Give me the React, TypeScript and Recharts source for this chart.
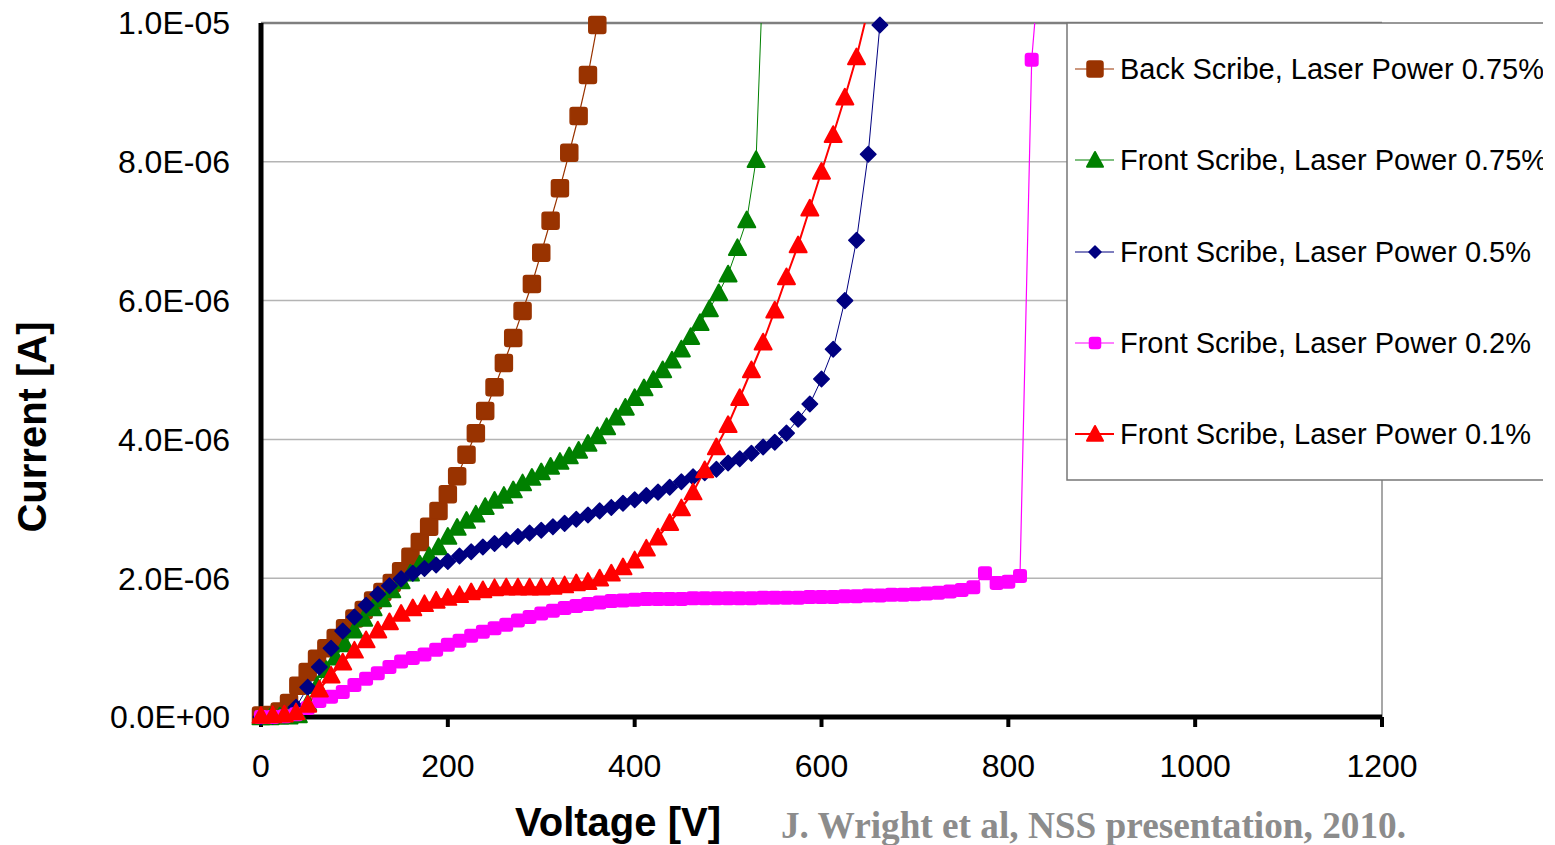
import { CartesianGrid, Line, LineChart, ReferenceLine, XAxis, YAxis } from "recharts";

// voltage steps used by the measurements [V]
const volts10 = [
  0, 10, 20, 30, 40, 50, 60, 70, 80, 90, 100, 110, 120, 130, 140, 150, 160, 170, 180, 190, 200, 210, 220,
  230, 240, 250, 260, 270, 280, 290, 300, 310, 320, 330, 340, 350, 360, 370, 380, 390, 400, 410, 420, 430,
  440, 450, 460, 470, 480, 490, 500, 510, 520, 530, 540,
];
const volts12 = [
  0, 12.5, 25, 37.5, 50, 62.5, 75, 87.5, 100, 112.5, 125, 137.5, 150, 162.5, 175, 187.5, 200, 212.5, 225,
  237.5, 250, 262.5, 275, 287.5, 300, 312.5, 325, 337.5, 350, 362.5, 375, 387.5, 400, 412.5, 425, 437.5, 450,
  462.5, 475, 487.5, 500, 512.5, 525, 537.5, 550, 562.5, 575, 587.5, 600, 612.5, 625, 637.5, 650, 662.5, 675,
  687.5, 700, 712.5, 725, 737.5, 750, 762.5, 775, 787.5, 800, 812.5, 825, 837.5,
];

// currents in µA (x1e-6 A)
const backScribe075 = [
  0.02, 0.03, 0.08, 0.2, 0.45, 0.65, 0.84, 0.99, 1.14, 1.28, 1.42, 1.54, 1.68, 1.8, 1.93, 2.1, 2.31, 2.52,
  2.74, 2.97, 3.21, 3.47, 3.78, 4.09, 4.41, 4.75, 5.1, 5.46, 5.85, 6.24, 6.69, 7.15, 7.62, 8.13, 8.66, 9.25, 9.97,
];
const frontScribe075 = [
  0, 0, 0.01, 0.01, 0.03, 0.2, 0.45, 0.68, 0.86, 1.05, 1.25, 1.42, 1.57, 1.7, 1.83, 1.96, 2.07, 2.2, 2.32,
  2.45, 2.6, 2.73, 2.83, 2.92, 3.03, 3.12, 3.19, 3.27, 3.37, 3.45, 3.53, 3.61, 3.68, 3.76, 3.84, 3.94, 4.05,
  4.18, 4.32, 4.46, 4.6, 4.74, 4.86, 5.0, 5.14, 5.3, 5.48, 5.68, 5.88, 6.11, 6.38, 6.76, 7.16, 8.03, 11.7,
];
const frontScribe05 = [
  0, 0.01, 0.03, 0.14, 0.43, 0.72, 0.99, 1.24, 1.44, 1.61, 1.77, 1.89, 1.99, 2.07, 2.14, 2.19, 2.24, 2.32,
  2.38, 2.45, 2.5, 2.55, 2.6, 2.65, 2.69, 2.74, 2.79, 2.85, 2.91, 2.97, 3.02, 3.08, 3.13, 3.19, 3.24, 3.31,
  3.39, 3.46, 3.52, 3.57, 3.66, 3.72, 3.8, 3.89, 3.96, 4.09, 4.29, 4.51, 4.87, 5.3, 6.0, 6.87, 8.11, 9.97,
];
const frontScribe02 = [
  0, 0, 0.01, 0.04, 0.13, 0.23, 0.29, 0.36, 0.46, 0.55, 0.63, 0.72, 0.8, 0.85, 0.9, 0.97, 1.04, 1.1, 1.17,
  1.23, 1.28, 1.33, 1.39, 1.44, 1.49, 1.53, 1.57, 1.6, 1.63, 1.65, 1.67, 1.68, 1.69, 1.7, 1.7, 1.7, 1.7, 1.71,
  1.71, 1.71, 1.71, 1.71, 1.71, 1.72, 1.72, 1.72, 1.72, 1.73, 1.73, 1.73, 1.74, 1.74, 1.75, 1.75, 1.76, 1.76,
  1.77, 1.78, 1.79, 1.81, 1.83, 1.87, 2.07, 1.93, 1.95, 2.03, 9.47, 11.5,
];
const frontScribe01 = [
  0.02, 0.03, 0.04, 0.07, 0.18, 0.4, 0.6, 0.79, 0.96, 1.11, 1.25, 1.37, 1.49, 1.57, 1.63, 1.68, 1.72, 1.76,
  1.8, 1.83, 1.86, 1.87, 1.87, 1.87, 1.87, 1.88, 1.9, 1.93, 1.95, 2.0, 2.07, 2.16, 2.26, 2.43, 2.59, 2.8,
  3.01, 3.24, 3.56, 3.89, 4.21, 4.6, 5.0, 5.4, 5.86, 6.34, 6.8, 7.33, 7.86, 8.39, 8.93, 9.51, 10.2,
];

const xTicks = [0, 200, 400, 600, 800, 1000, 1200];
const yTicks = [0, 2, 4, 6, 8, 10];

const seriesNames = [
  "Back Scribe, Laser Power 0.75%",
  "Front Scribe, Laser Power 0.75%",
  "Front Scribe, Laser Power 0.5%",
  "Front Scribe, Laser Power 0.2%",
  "Front Scribe, Laser Power 0.1%",
];

type Shape = "square" | "triangle" | "diamond";

const series = [
  { name: seriesNames[0], volts: volts10, amps: backScribe075, color: "#993300", width: 1.2, shape: "square" as Shape, size: 17, legendSize: 16 },
  { name: seriesNames[1], volts: volts10, amps: frontScribe075, color: "#008000", width: 1, shape: "triangle" as Shape, size: 17, legendSize: 16 },
  { name: seriesNames[2], volts: volts12, amps: frontScribe05, color: "#000080", width: 1, shape: "diamond" as Shape, size: 15.5, legendSize: 12 },
  { name: seriesNames[3], volts: volts12, amps: frontScribe02, color: "#FF00FF", width: 1.2, shape: "square" as Shape, size: 12.5, legendSize: 11 },
  { name: seriesNames[4], volts: volts12, amps: frontScribe01, color: "#FF0000", width: 2, shape: "triangle" as Shape, size: 17, legendSize: 16 },
].map((s) => ({ ...s, data: s.amps.map((a, i) => ({ v: s.volts[i], i: a })) }));

const FONT = "'Liberation Sans', Arial, sans-serif";

const fmtAmp = (v: number) => {
  if (v === 0) return "0.0E+00";
  const a = v * 1e-6;
  const e = Math.floor(Math.log10(a) + 1e-9);
  const m = a / 10 ** e;
  return `${m.toFixed(1)}E${e < 0 ? "-" : "+"}${String(Math.abs(e)).padStart(2, "0")}`;
};

function Marker({ cx, cy, shape, color, size }: { cx: number; cy: number; shape: Shape; color: string; size: number }) {
  const h = size / 2;
  if (shape === "square") {
    return <rect x={cx - h} y={cy - h} width={size} height={size} rx={2.5} fill={color} stroke={color} strokeWidth={1.5} strokeLinejoin="round" />;
  }
  if (shape === "triangle") {
    return (
      <polygon
        points={`${cx},${cy - h} ${cx + h},${cy + h * 0.85} ${cx - h},${cy + h * 0.85}`}
        fill={color}
        stroke={color}
        strokeWidth={2}
        strokeLinejoin="round"
      />
    );
  }
  return (
    <polygon
      points={`${cx},${cy - h} ${cx + h},${cy} ${cx},${cy + h} ${cx - h},${cy}`}
      fill={color}
      stroke={color}
      strokeWidth={1.5}
      strokeLinejoin="round"
    />
  );
}

const legendRows = [69, 160, 252, 343, 434];

export default function App() {
  return (
    <div style={{ position: "absolute", left: 0, top: 0, width: 1555, height: 845, overflow: "hidden", background: "#fff" }}>
      <LineChart width={1555} height={845} margin={{ top: 23, right: 173, bottom: 58, left: 111 }}>
        <CartesianGrid yAxisId="main" vertical={false} stroke="#b4b4b4" strokeWidth={1.5} />
        <XAxis
          type="number"
          dataKey="v"
          domain={[0, 1200]}
          ticks={xTicks}
          interval={0}
          height={70}
          axisLine={{ stroke: "#000", strokeWidth: 5 }}
          tickLine={{ stroke: "#000", strokeWidth: 4 }}
          tickSize={10}
          tickMargin={27}
          tick={{ fontSize: 32, fill: "#000", fontFamily: FONT }}
        />
        <YAxis
          yAxisId="main"
          type="number"
          domain={[0, 10]}
          ticks={yTicks}
          interval={0}
          allowDataOverflow
          width={150}
          axisLine={{ stroke: "#000", strokeWidth: 5 }}
          tickLine={false}
          tickSize={0}
          tickMargin={31}
          tickFormatter={fmtAmp}
          tick={{ fontSize: 32, fill: "#000", fontFamily: FONT }}
        />
        <YAxis yAxisId="m" type="number" domain={[0, 10]} orientation="right" width={0} hide />
        <ReferenceLine yAxisId="main" y={10} stroke="#7f7f7f" strokeWidth={2.5} />
        <ReferenceLine yAxisId="main" x={1200} stroke="#8a8a8a" strokeWidth={1.5} />
        {series.flatMap((s) => [
          <Line
            key={`${s.name}-line`}
            yAxisId="main"
            data={s.data}
            dataKey="i"
            stroke={s.color}
            strokeWidth={s.width}
            dot={false}
            activeDot={false}
            legendType="none"
            isAnimationActive={false}
          />,
          <Line
            key={`${s.name}-marks`}
            yAxisId="m"
            data={s.data.filter((d) => d.i <= 10)}
            dataKey="i"
            stroke="none"
            activeDot={false}
            legendType="none"
            isAnimationActive={false}
            dot={(p: any) => (
              <Marker key={`${s.name}-${p.index}`} cx={p.cx} cy={p.cy} shape={s.shape} color={s.color} size={s.size} />
            )}
          />,
        ])}
      </LineChart>

      <svg width={1555} height={845} style={{ position: "absolute", left: 0, top: 0, pointerEvents: "none" }}>
        <defs>
          <clipPath id="legend-clip">
            <rect x={1060} y={18} width={483} height={470} />
          </clipPath>
        </defs>
        <g clipPath="url(#legend-clip)">
          <rect x={1067} y={23} width={480} height={457} fill="#fff" />
          <path d="M1550 23 H1067 V480 H1550" stroke="#777" strokeWidth={1.5} fill="none" />
          {series.map((s, k) => (
            <g key={s.name}>
              <line x1={1075} x2={1114} y1={legendRows[k]} y2={legendRows[k]} stroke={s.color} strokeWidth={Math.max(1.2, s.width)} />
              <Marker cx={1095} cy={legendRows[k]} shape={s.shape} color={s.color} size={s.legendSize} />
              <text x={1120} y={legendRows[k] + 10} fontSize={29} fontFamily={FONT} fill="#000">
                {s.name}
              </text>
            </g>
          ))}
        </g>
        <text
          x={32}
          y={427}
          transform="rotate(-90 32 427)"
          textAnchor="middle"
          dominantBaseline="central"
          fontSize={40}
          fontWeight="bold"
          fontFamily={FONT}
          fill="#000"
        >
          Current [A]
        </text>
        <text x={618} y={836} textAnchor="middle" fontSize={40} fontWeight="bold" fontFamily={FONT} fill="#000">
          Voltage [V]
        </text>
        <text
          x={781}
          y={838}
          textLength={625}
          lengthAdjust="spacingAndGlyphs"
          fontSize={37}
          fontWeight="bold"
          fontFamily="'Liberation Serif', 'Times New Roman', serif"
          fill="#8c8c8c"
        >
          J. Wright et al, NSS presentation, 2010.
        </text>
      </svg>
    </div>
  );
}
